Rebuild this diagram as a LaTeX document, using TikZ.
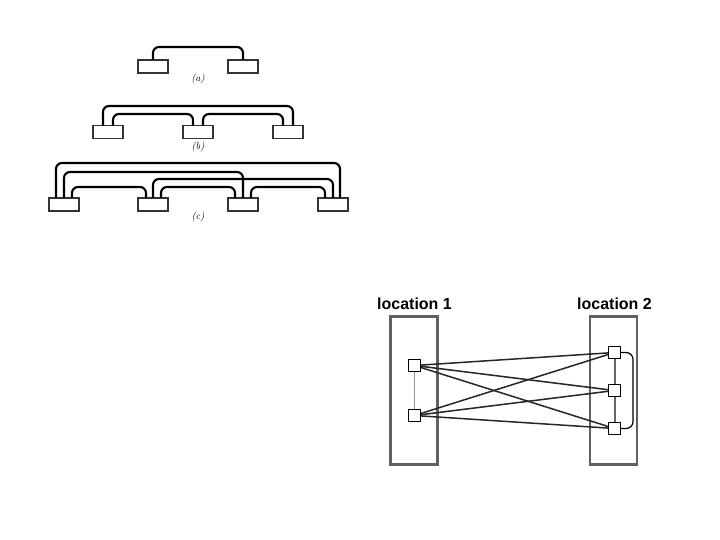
\documentclass[tikz,border=0pt]{standalone}
\usepackage{fontspec}
\newfontfamily\locfont{Liberation Sans}
\usetikzlibrary{calc}
\pgfdeclarelayer{bg}
\pgfdeclarelayer{mid}
\pgfsetlayers{bg,mid,main}
\begin{document}
\begin{tikzpicture}[x=1pt,y=-1pt,
  blk/.style={draw=black!80, line width=1.4pt, fill=white, minimum width=30pt, minimum height=13pt, inner sep=0pt, outer sep=0pt},
  arc/.style={line width=2.1pt, rounded corners=6pt},
  lbl/.style={font=\fontsize{10}{11}\selectfont\itshape, inner sep=0pt},
  loc/.style={draw=black!62, line width=2.5pt, minimum width=47pt, minimum height=148pt, inner sep=0pt},
  loctext/.style={font=\locfont\bfseries\fontsize{16}{18}\selectfont, inner sep=0pt},
  sq/.style={draw=black, fill=white, line width=1.1pt, minimum size=12pt, inner sep=0pt},
  link/.style={line width=1.5pt, black!85},
  vlink/.style={line width=1.5pt, black!40},
  rlink/.style={line width=2pt, black!60}]
\useasboundingbox (0,0) rectangle (720,540);
% (a)
\node[blk] (a1) at (153,66.5) {};
\node[blk] (a2) at (243,66.5) {};
\node[lbl] (la) at (198,79) {(a)};
\draw[arc] (a1.north) -- (a1.north |- 0,47) -| (a2.north);
% (b)
\node[blk] (b1) at (108,132) {};
\node[blk] (b2) at (198,132) {};
\node[blk] (b3) at (288,132) {};
\node[lbl] (lb) at (198,147) {(b)};
\coordinate (b1o) at ([xshift=-5pt]b1.north);
\coordinate (b1i) at ([xshift=5pt]b1.north);
\coordinate (b2l) at ([xshift=-5pt]b2.north);
\coordinate (b2r) at ([xshift=5pt]b2.north);
\coordinate (b3i) at ([xshift=-5pt]b3.north);
\coordinate (b3o) at ([xshift=5pt]b3.north);
\draw[arc] (b1o) -- (b1o |- 0,106) -| (b3o);
\draw[arc] (b1i) -- (b1i |- 0,114) -| (b2l);
\draw[arc] (b2r) -- (b2r |- 0,114) -| (b3i);
% (c)
\node[blk] (c1) at (64,204.5) {};
\node[blk] (c2) at (153,204.5) {};
\node[blk] (c3) at (243,204.5) {};
\node[blk] (c4) at (333,204.5) {};
\node[lbl] (lc) at (198,217) {(c)};
\coordinate (c1o) at ([xshift=-8pt]c1.north);
\coordinate (c1m) at (c1.north);
\coordinate (c1i) at ([xshift=8pt]c1.north);
\coordinate (c2l) at ([xshift=-7pt]c2.north);
\coordinate (c2m) at (c2.north);
\coordinate (c2r) at ([xshift=8pt]c2.north);
\coordinate (c3l) at ([xshift=-8pt]c3.north);
\coordinate (c3m) at (c3.north);
\coordinate (c3r) at ([xshift=8pt]c3.north);
\coordinate (c4i) at ([xshift=-8pt]c4.north);
\coordinate (c4m) at (c4.north);
\coordinate (c4o) at ([xshift=7pt]c4.north);
\draw[arc] (c1o) -- (c1o |- 0,163) -| (c4o);
\draw[arc] (c1m) -- (c1m |- 0,172) -| (c3m);
\draw[arc] (c2m) -- (c2m |- 0,179) -| (c4m);
\draw[arc] (c1i) -- (c1i |- 0,187) -| (c2l);
\draw[arc] (c2r) -- (c2r |- 0,187) -| (c3l);
\draw[arc] (c3r) -- (c3r |- 0,187) -| (c4i);
% locations
\begin{pgfonlayer}{bg}
\node[loc] (loc1) at (414,390.5) {};
\node[loc] (loc2) at (613.5,390.5) {};
\end{pgfonlayer}
\node[loctext] (t1) at (414.5,304) {location 1};
\node[loctext] (t2) at (614.5,304) {location 2};
\node[sq] (L1) at (414.5,365.5) {};
\node[sq] (L2) at (414.5,415.5) {};
\node[sq] (R1) at (614.5,352.5) {};
\node[sq] (R2) at (614.5,390.5) {};
\node[sq] (R3) at (614.5,428.5) {};
\begin{pgfonlayer}{mid}
\draw[vlink] (L1) -- (L2);
\draw[rlink] (R1) -- (R2);
\draw[rlink] (R2) -- (R3);
\draw[line width=1.2pt, rounded corners=7pt] (R1.east) -- ++(12,0) |- (R3.east);
\foreach \l in {L1,L2}{
  \foreach \r in {R1,R2,R3}{
    \draw[link] (\l.center) -- (\r.center);
  }
}
\end{pgfonlayer}
\end{tikzpicture}
\end{document}
